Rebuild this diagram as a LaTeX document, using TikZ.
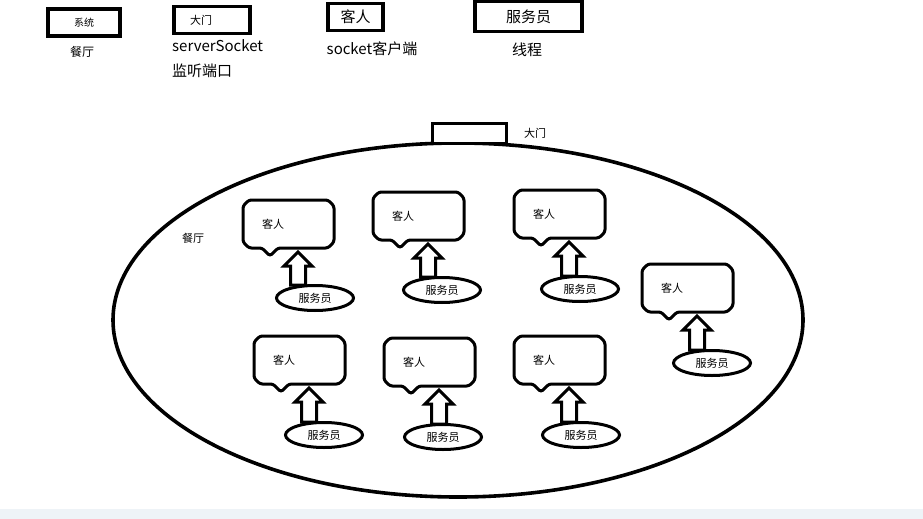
\documentclass[tikz,border=0pt]{standalone}
\usepackage{fontspec}
\setmainfont{Noto Sans CJK SC}
\usetikzlibrary{calc,shapes.geometric}
\definecolor{barcol}{RGB}{238,243,247}
\tikzset{
  legendbox/.style={draw=black, line width=3.8pt, minimum height=27pt, inner sep=0pt},
  lbl/.style={inner sep=0pt, font=\fontsize{15}{15}\selectfont},
  small/.style={inner sep=0pt, font=\fontsize{11}{11}\selectfont},
  bub/.style={draw=black, line width=3pt, line join=round, rounded corners=2.5pt},
  waiter/.style={draw=black, line width=3pt, ellipse, minimum width=77pt, minimum height=25pt, inner sep=0pt, font=\fontsize{11}{11}\selectfont},
  blockarrow/.style={draw=black, line width=3pt, line join=miter, fill=white},
}
\begin{document}
\begin{tikzpicture}[x=1pt,y=-1pt]
\useasboundingbox (0,0) rectangle (923,519);
\fill[white] (0,0) rectangle (923,519);
\fill[barcol] (0,509) rectangle (923,519);

% legend
\node[legendbox, minimum width=72pt, font=\fontsize{10}{10}\selectfont] (lsys) at (84,22.5) {系统};
\node[lbl, font=\fontsize{12}{12}\selectfont] (lsyst) at (82,52) {餐厅};
\node[legendbox, minimum width=76pt, font=\fontsize{11}{11}\selectfont] (ldoor) at (212,20) {\hspace*{-22pt}大门};
\node[lbl, anchor=west] (ldoort1) at (172,46) {serverSocket};
\node[lbl, anchor=west] (ldoort2) at (172,71) {监听端口};
\node[legendbox, minimum width=55pt, font=\fontsize{15}{15}\selectfont] (lguest) at (355.5,17) {客人};
\node[lbl] (lguestt) at (372,49) {socket客户端};
\node[legendbox, minimum width=107pt, minimum height=30pt, font=\fontsize{15}{15}\selectfont] (lwait) at (528.5,16.5) {服务员};
\node[lbl] (lwaitt) at (527,50) {线程};

% restaurant
\draw[line width=3.6pt] (458,320) ellipse [x radius=345, y radius=177];
\node[draw=black, fill=white, line width=3pt, minimum width=74pt, minimum height=20pt, inner sep=0pt] (door) at (469,133) {};
\node[small] (doorlbl) at (535,133) {大门};
\node[small] (hall) at (193,238) {餐厅};

% guest groups: #1 name, #2 bx, #3 by, #4 ex, #5 ey
\newcommand\guestgroup[5]{%
  \node[small] (b#1) at (#2+30,#3+24) {客人};
  \draw[bub] (#2+6,#3) -- (#2+85,#3) -- (#2+91,#3+6) -- (#2+91,#3+42) -- (#2+85,#3+48)
     -- (#2+35,#3+48) -- (#2+27,#3+56) -- (#2+19,#3+48) -- (#2+6,#3+48)
     -- (#2,#3+42) -- (#2,#3+6) -- cycle;
  \node[waiter] (w#1) at (#4,#5) {服务员};
  \draw[blockarrow] (#2+55,#3+52) -- (#2+69,#3+66) -- (#2+62.5,#3+66)
     -- (#2+62.5,#5-13) -- (#2+47.5,#5-13) -- (#2+47.5,#3+66) -- (#2+41,#3+66) -- cycle;
}
\guestgroup{1}{243}{200}{315}{298}
\guestgroup{2}{373}{192}{442}{290}
\guestgroup{3}{514}{190}{580}{289}
\guestgroup{4}{642}{264}{712}{363}
\guestgroup{5}{254}{336}{324}{435}
\guestgroup{6}{384}{338}{443}{437}
\guestgroup{7}{514}{336}{581}{435}
\end{tikzpicture}
\end{document}
